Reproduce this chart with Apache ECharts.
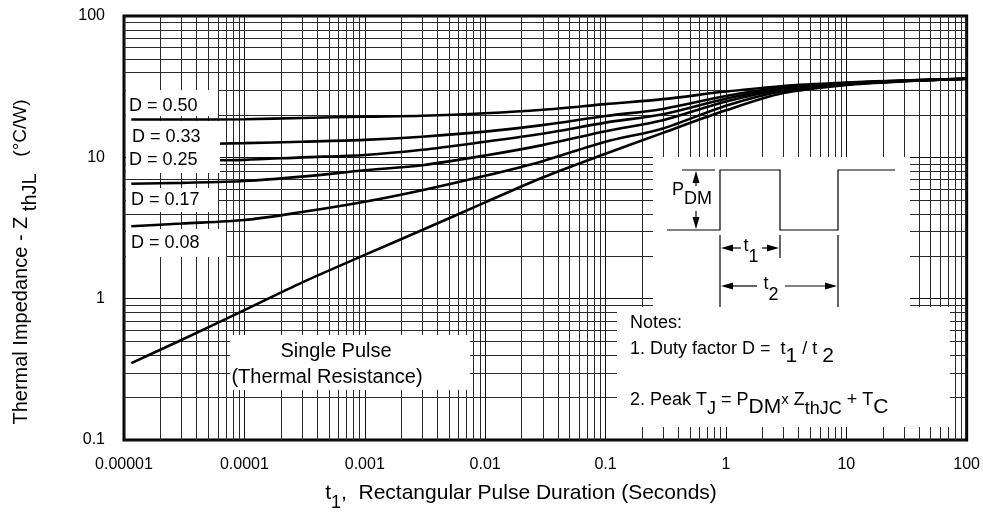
<!DOCTYPE html>
<html>
<head>
<meta charset="utf-8">
<script src="https://cdn.jsdelivr.net/npm/echarts@6/dist/echarts.min.js"></script>
<style>
html, body { margin: 0; padding: 0; background: #fff; }
#chart { width: 983px; height: 515px; }
</style>
</head>
<body>
<div id="chart"></div>
<script>
// pulse duration t1 (s) at which the curves were read
const pulseTimes = [1.15e-5, 3e-5, 1e-4, 3e-4, 1e-3, 3e-3, 1e-2, 3e-2, 0.1, 0.3, 1, 3, 10, 30, 100];
// thermal impedance (°C/W) for each duty factor
const zD50 = [18.5, 18.5, 18.6, 19.0, 19.4, 19.7, 20.5, 21.7, 23.8, 25.8, 29.2, 32.0, 33.8, 35.0, 36.0];
const zD33 = [12.3, 12.4, 12.6, 12.9, 13.3, 14.0, 15.2, 16.9, 19.6, 22.0, 27.2, 31.3, 33.5, 34.9, 36.0];
const zD25 = [9.4, 9.5, 9.6, 10.0, 10.4, 11.3, 12.9, 14.7, 17.6, 20.2, 26.0, 30.8, 33.3, 34.8, 36.0];
const zD17 = [6.5, 6.6, 6.8, 7.3, 8.1, 8.8, 10.3, 12.2, 15.3, 18.3, 24.8, 30.2, 33.1, 34.7, 36.0];
const zD08 = [3.25, 3.4, 3.6, 4.1, 4.85, 5.85, 7.4, 9.4, 12.9, 16.0, 23.2, 29.5, 32.8, 34.6, 36.0];
const singlePulse = [0.35, 0.51, 0.83, 1.3, 2.04, 3.06, 4.8, 7.2, 10.6, 14.9, 21.5, 28.5, 32.5, 34.5, 36.0];
const seriesNames = ['D = 0.50', 'D = 0.33', 'D = 0.25', 'D = 0.17', 'D = 0.08', 'Single Pulse'];
const xTickLabels = ['0.00001', '0.0001', '0.001', '0.01', '0.1', '1', '10', '100'];
const yTickLabels = ['0.1', '1', '10', '100'];

const FONT = '"Liberation Sans", Arial, sans-serif';
const chart = echarts.init(document.getElementById('chart'));

// log grid: minor lines at 2..9 in every decade
const minorX = [];
for (let e = -5; e < 2; e++) for (let k = 2; k <= 9; k++) minorX.push(k * Math.pow(10, e));
const minorY = [];
for (let e = -1; e < 2; e++) for (let k = 2; k <= 9; k++) minorY.push(k * Math.pow(10, e));

const curves = [zD50, zD33, zD25, zD17, zD08, singlePulse].map((ys, i) => ({
    name: seriesNames[i],
    type: 'line',
    data: pulseTimes.map((t, j) => [t, ys[j]]),
    smooth: 0.3,
    showSymbol: false,
    silent: true,
    z: 3,
    lineStyle: { color: '#000', width: 2.6 }
}));

// minor grid lines, placed through the axes
function gridLines(values, vertical) {
    return {
        type: 'custom',
        silent: true,
        z: 1,
        data: values.map(v => vertical ? [v, 1] : [1, v]),
        encode: { x: 0, y: 1 },
        renderItem: function (params, api) {
            const cs = params.coordSys;
            const p = api.coord([api.value(0), api.value(1)]);
            let shape;
            if (vertical) {
                const x = Math.round(p[0]) + 0.5;
                shape = { x1: x, y1: cs.y, x2: x, y2: cs.y + cs.height };
            } else {
                const y = Math.round(p[1]) + 0.5;
                shape = { x1: cs.x, y1: y, x2: cs.x + cs.width, y2: y };
            }
            return { type: 'line', shape: shape, style: { stroke: '#2a2a2a', lineWidth: 1 } };
        }
    };
}

// helpers for the annotation layer
function box(x, y, w, h) {
    return { type: 'rect', z: 10, silent: true, shape: { x: x, y: y, width: w, height: h }, style: { fill: '#fff' } };
}
function txt(x, y, text, extra, rotation) {
    const el = {
        type: 'text', x: x, y: y, z: 20, silent: true,
        style: Object.assign({
            text: text, fill: '#000', fontSize: 18, fontFamily: FONT,
            align: 'left', verticalAlign: 'middle'
        }, extra || {})
    };
    if (rotation) el.rotation = rotation;
    return el;
}
function seg(x1, y1, x2, y2) {
    return { type: 'line', z: 20, silent: true, shape: { x1: x1, y1: y1, x2: x2, y2: y2 }, style: { stroke: '#000', lineWidth: 1.2 } };
}
function head(points) {
    return { type: 'polygon', z: 20, silent: true, shape: { points: points }, style: { fill: '#000' } };
}
// rich styles: s = lowered subscript, b = lowered larger subscript
const richSub = {
    s: { fontSize: 18, fontFamily: FONT, lineHeight: 20, verticalAlign: 'bottom' },
    b: { fontSize: 21, fontFamily: FONT, lineHeight: 22, verticalAlign: 'bottom' },
    m: { fontSize: 15, fontFamily: FONT }
};

const graphics = [
    // label backgrounds
    box(126, 90, 92, 26),
    box(126, 121, 94, 27),
    box(126, 148, 94, 25),
    box(126, 188, 92, 24),
    box(126, 229, 100, 28),
    box(230, 335, 240, 55),
    box(653, 157, 257, 150),
    box(617, 307, 333, 120),

    txt(129, 106, 'D = 0.50'),
    txt(132, 137, 'D = 0.33'),
    txt(129, 160, 'D = 0.25'),
    txt(131, 200, 'D = 0.17'),
    txt(131, 243, 'D = 0.08'),
    txt(336, 351, 'Single Pulse', { align: 'center', fontSize: 20 }),
    txt(327, 377, '(Thermal Resistance)', { align: 'center', fontSize: 20 }),

    // pulse train diagram
    { type: 'polyline', z: 20, silent: true,
      shape: { points: [[667, 230], [720, 230], [720, 170], [780, 170], [780, 230], [838, 230], [838, 170], [895, 170]] },
      style: { stroke: '#000', lineWidth: 1.2, fill: null } },
    seg(682, 170, 715, 170),
    seg(696, 182, 696, 186),
    head([[696, 171], [692.5, 183], [699.5, 183]]),
    seg(696, 211, 696, 218),
    head([[696, 229], [692.5, 217], [699.5, 217]]),
    txt(692, 190, 'P{s|DM}', { align: 'center', lineHeight: 36, rich: richSub }),

    seg(720, 235, 720, 307),
    seg(780, 235, 780, 258),
    seg(838, 235, 838, 307),
    head([[721, 248], [733, 244.5], [733, 251.5]]),
    seg(733, 248, 741, 248),
    seg(762, 248, 767, 248),
    head([[779, 248], [767, 244.5], [767, 251.5]]),
    txt(751, 246, 't{s|1}', { align: 'center', lineHeight: 40, rich: richSub }),
    head([[721, 286], [733, 282.5], [733, 289.5]]),
    seg(733, 286, 757, 286),
    seg(785, 286, 826, 286),
    head([[837, 286], [825, 282.5], [825, 289.5]]),
    txt(771, 284, 't{s|2}', { align: 'center', lineHeight: 40, rich: richSub }),

    // notes
    txt(630, 323, 'Notes:'),
    txt(630, 349, '1. Duty factor D =  t{b|1} / t {b|2}', { lineHeight: 36, rich: richSub }),
    txt(630, 400, '2. Peak T{s|J} = P{b|DM}{m|x} Z{s|thJC} + T{b|C}', { lineHeight: 36, rich: richSub }),

    // axis titles
    txt(521, 493, 't{s|1},  Rectangular Pulse Duration (Seconds)', {
        align: 'center', lineHeight: 38, fontSize: 21,
        rich: { s: { fontSize: 18, fontFamily: FONT, lineHeight: 22, verticalAlign: 'bottom' } }
    }),
    txt(21, 262, 'Thermal Impedance - Z {s|thJL}   {u|(°C/W)}', {
        align: 'center', lineHeight: 38, fontSize: 20,
        rich: {
            s: { fontSize: 20, fontFamily: FONT, lineHeight: 22, verticalAlign: 'bottom' },
            u: { fontSize: 19, fontFamily: FONT }
        }
    }, Math.PI / 2)
];

const option = {
    animation: false,
    backgroundColor: '#fff',
    grid: {
        left: 124, right: 13, top: 16, bottom: 75,
        show: true, borderColor: '#000', borderWidth: 3, backgroundColor: 'transparent'
    },
    xAxis: {
        type: 'log',
        logBase: 10,
        min: 1e-5,
        max: 100,
        splitNumber: 7,
        axisLine: { show: false },
        axisTick: { show: false },
        splitLine: { show: true, lineStyle: { color: '#111', width: 1 } },
        axisLabel: {
            color: '#000', fontSize: 16, fontFamily: FONT, margin: 17,
            formatter: v => xTickLabels[Math.round(Math.log10(v)) + 5]
        }
    },
    yAxis: {
        type: 'log',
        logBase: 10,
        min: 0.1,
        max: 100,
        splitNumber: 3,
        axisLine: { show: false },
        axisTick: { show: false },
        splitLine: { show: true, lineStyle: { color: '#111', width: 1 } },
        axisLabel: {
            color: '#000', fontSize: 16, fontFamily: FONT, margin: 19,
            formatter: v => yTickLabels[Math.round(Math.log10(v)) + 1]
        }
    },
    series: [gridLines(minorX, true), gridLines(minorY, false)].concat(curves),
    graphic: graphics
};

chart.setOption(option);
</script>
</body>
</html>
